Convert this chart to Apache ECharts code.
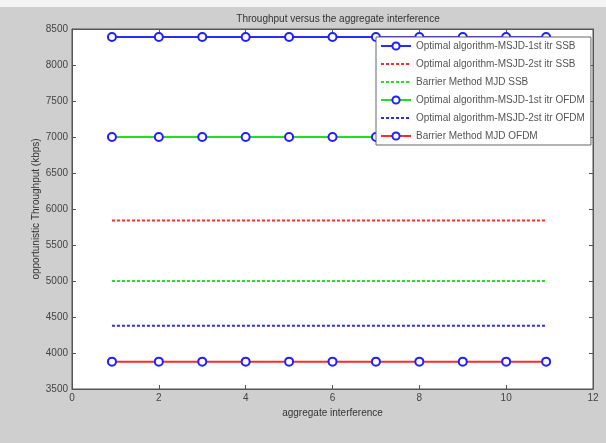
<!DOCTYPE html>
<html><head><meta charset="utf-8">
<script src="https://cdn.jsdelivr.net/npm/echarts@6/dist/echarts.min.js"></script>
<style>html,body{margin:0;padding:0;background:#fff}#c{width:606px;height:443px}</style>
</head><body><div id="c"></div>
<script>
const xValues = [0.92, 2, 3, 4, 5, 6, 7, 8, 9, 10, 10.92];
const msjd1SSB  = [8390, 8390, 8390, 8390, 8390, 8390, 8390, 8390, 8390, 8390, 8390];
const msjd2SSB  = [5840, 5840, 5840, 5840, 5840, 5840, 5840, 5840, 5840, 5840, 5840];
const barrierSSB = [5000, 5000, 5000, 5000, 5000, 5000, 5000, 5000, 5000, 5000, 5000];
const msjd1OFDM = [7000, 7000, 7000, 7000, 7000, 7000, 7000, 7000, 7000, 7000, 7000];
const msjd2OFDM = [4380, 4380, 4380, 4380, 4380, 4380, 4380, 4380, 4380, 4380, 4380];
const barrierOFDM = [3880, 3880, 3880, 3880, 3880, 3880, 3880, 3880, 3880, 3880, 3880];
const seriesNames = [
  'Optimal algorithm-MSJD-1st itr SSB',
  'Optimal algorithm-MSJD-2st itr SSB',
  'Barrier Method MJD SSB',
  'Optimal algorithm-MSJD-1st itr OFDM',
  'Optimal algorithm-MSJD-2st itr OFDM',
  'Barrier Method MJD OFDM'
];
const hasMarkers = [true, false, false, true, false, true];
const titleText = 'Throughput versus the aggregate interference';
const xName = 'aggregate interference';
const yName = 'opportunistic Throughput (kbps)';

const pairs = v => xValues.map((x, i) => [x, v[i]]);
const BLUE = '#2b2bff', RED = '#ff2a2a', GREEN = '#1fe01f';
const FONT = 'Liberation Sans';

function mk(name, data, color, dashed, markers) {
  return {
    name, type: 'line', data: pairs(data), xAxisIndex: 0, yAxisIndex: 0,
    symbol: markers ? 'circle' : 'none', symbolSize: 8, showSymbol: markers,
    lineStyle: { color, width: 2, type: dashed ? [3, 2] : 'solid' },
    itemStyle: { color: '#ffffff', borderColor: '#2020ff', borderWidth: 2 },
    emphasis: { disabled: true }, animation: false
  };
}

const chart = echarts.init(document.getElementById('c'), null, { renderer: 'canvas' });
const axisCommon = {
  axisLine: { show: true, onZero: false, lineStyle: { color: '#555', width: 1 } },
  axisTick: { show: true, inside: true, length: 4, lineStyle: { color: '#555' } },
  splitLine: { show: false }
};
chart.setOption({
  backgroundColor: '#cfcfcf',
  animation: false,
  graphic: [
    { type: 'rect', shape: { x: 0, y: 0, width: 606, height: 7 }, style: { fill: '#f4f4f4' }, z: 100 }
  ],
  title: {
    text: titleText, left: 333, top: 9, textAlign: 'center',
    textStyle: { fontFamily: FONT, fontSize: 10, fontWeight: 'normal', color: '#333' }
  },
  grid: { left: 72, top: 29, width: 521, height: 360, show: true, backgroundColor: '#ffffff', borderColor: '#555', borderWidth: 1 },
  legend: {
    orient: 'vertical', left: 376, top: 37, itemWidth: 30, itemHeight: 9, itemGap: 8,
    padding: [4, 6, 4, 4],
    backgroundColor: '#ffffff', borderColor: '#666', borderWidth: 1,
    textStyle: { fontFamily: FONT, fontSize: 10, color: '#555' },
    data: seriesNames.map((n, i) => hasMarkers[i] ? { name: n } : { name: n, itemStyle: { opacity: 0 } })
  },
  xAxis: [
    Object.assign({ type: 'value', min: 0, max: 12, interval: 2, position: 'bottom',
      name: xName, nameLocation: 'middle', nameGap: 19,
      nameTextStyle: { fontFamily: FONT, fontSize: 10, color: '#333' },
      axisLabel: { fontFamily: FONT, fontSize: 10, color: '#444', margin: 4 } }, axisCommon),
    Object.assign({ type: 'value', min: 0, max: 12, interval: 2, position: 'top', axisLabel: { show: false } }, axisCommon)
  ],
  yAxis: [
    Object.assign({ type: 'value', min: 3500, max: 8500, interval: 500, position: 'left',
      name: yName, nameLocation: 'middle', nameGap: 31, nameMoveOverlap: false,
      nameTextStyle: { fontFamily: FONT, fontSize: 10, color: '#333' },
      axisLabel: { fontFamily: FONT, fontSize: 10, color: '#444', margin: 4, formatter: v => String(v) } }, axisCommon),
    Object.assign({ type: 'value', min: 3500, max: 8500, interval: 500, position: 'right', axisLabel: { show: false } }, axisCommon)
  ],
  series: [
    mk(seriesNames[0], msjd1SSB, BLUE, false, true),
    mk(seriesNames[1], msjd2SSB, RED, true, false),
    mk(seriesNames[2], barrierSSB, GREEN, true, false),
    mk(seriesNames[3], msjd1OFDM, GREEN, false, true),
    mk(seriesNames[4], msjd2OFDM, BLUE, true, false),
    mk(seriesNames[5], barrierOFDM, RED, false, true)
  ]
});
</script></body></html>
